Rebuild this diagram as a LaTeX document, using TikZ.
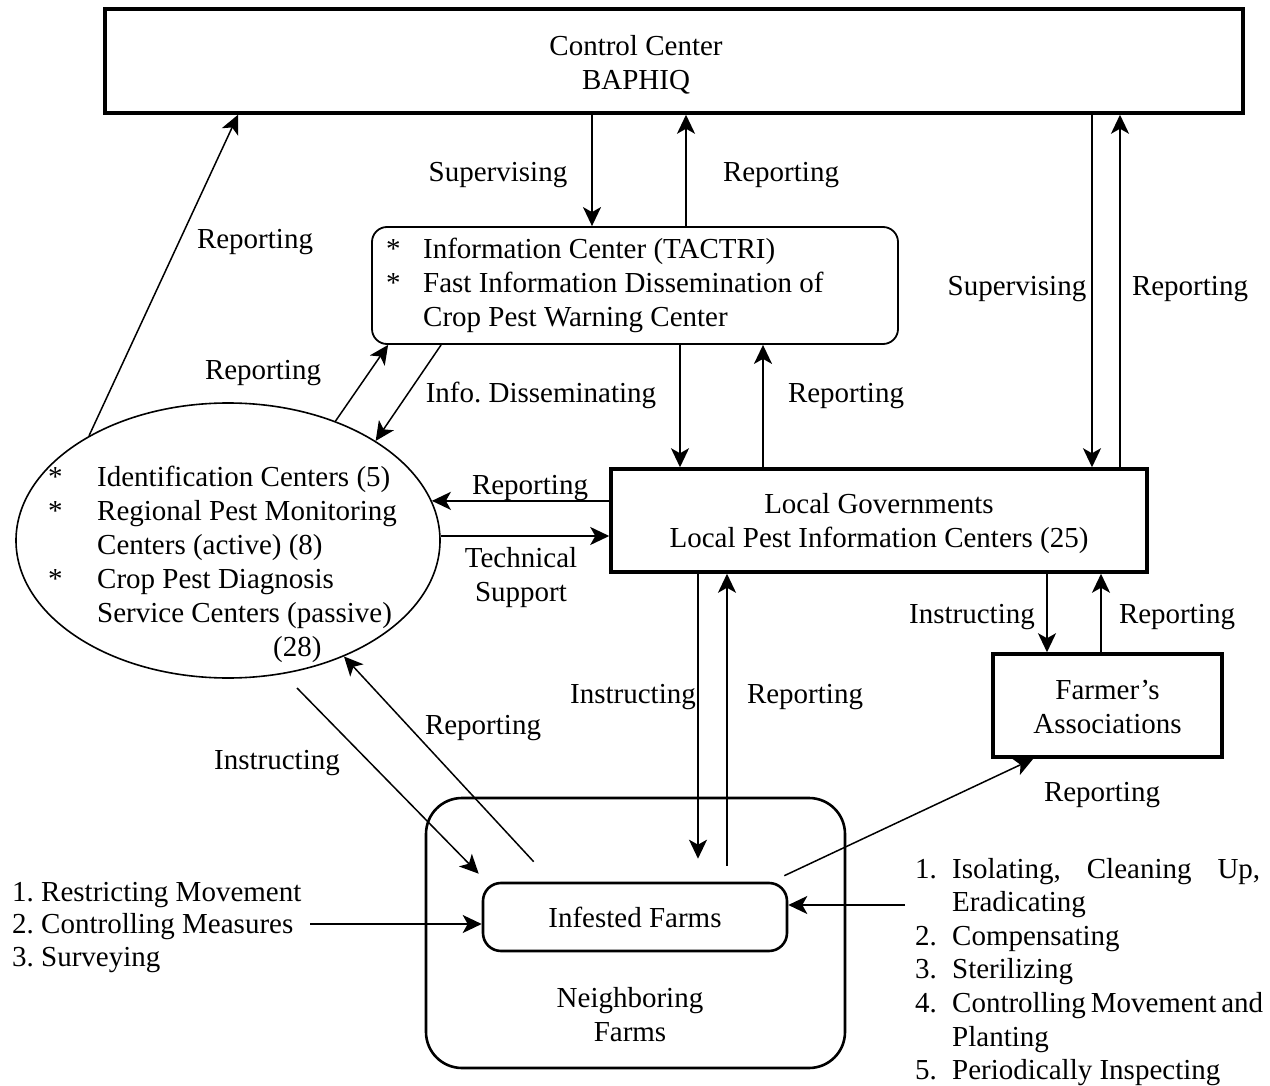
\documentclass[tikz,border=0pt]{standalone}
\usepackage{fontspec}
\setmainfont{Liberation Serif}
\usetikzlibrary{arrows.meta,shapes.geometric}
\frenchspacing

\begin{document}
\begin{tikzpicture}[x=1pt,y=-1pt,
  every node/.style={inner sep=0pt,font=\fontsize{29}{34}\selectfont},
  thickbox/.style={draw,rectangle,line width=3.5pt},
  infobox/.style={draw,rectangle,line width=1.8pt,rounded corners=15pt},
  farmbox/.style={draw,rectangle,line width=2.6pt},
  lbl/.style={anchor=base},
  txt/.style={anchor=base},
  arr/.style={-{Stealth[length=19pt,width=18pt,inset=5pt]},line width=2pt},
  thinarr/.style={arr,line width=1.5pt}]

\useasboundingbox (0,0) rectangle (1270,1086);

% boxes
\node[thickbox,minimum width=1138pt,minimum height=104pt] (cc) at (674,61) {};
\node[infobox,minimum width=526pt,minimum height=117pt] (info) at (635,285.5) {};
\node[thickbox,minimum width=536pt,minimum height=103pt] (lg) at (879,520.5) {};
\node[thickbox,minimum width=229pt,minimum height=103pt] (fa) at (1107.5,705.5) {};
\node[draw,ellipse,line width=1.6pt,minimum width=424pt,minimum height=275pt] (ell) at (228,540.5) {};
\node[farmbox,rounded corners=36pt,minimum width=419pt,minimum height=270pt] (nb) at (635.5,933) {};
\node[farmbox,rounded corners=18pt,minimum width=304pt,minimum height=68pt] (inf) at (635,917) {};

% box texts
\node[txt] (cct) at (636,56) {\begin{tabular}[t]{@{}c@{}}Control Center\\BAPHIQ\end{tabular}};
\node[txt] (lgt) at (879,513) {\begin{tabular}[t]{@{}c@{}}Local Governments\\Local Pest Information Centers (25)\end{tabular}};
\node[txt] (fat) at (1107.5,699) {\begin{tabular}[t]{@{}c@{}}Farmer’s\\Associations\end{tabular}};
\node[txt] (inft) at (635,927) {Infested Farms};
\node[txt] (nbt) at (630,1007) {\begin{tabular}[t]{@{}c@{}}Neighboring\\Farms\end{tabular}};
\node[anchor=base west] (infot) at (386,259) {\begin{tabular}[t]{@{}l@{\hspace{22.5pt}}l@{}}
  {*} & Information Center (TACTRI)\\
  {*} & Fast Information Dissemination of\\
      & Crop Pest Warning Center\end{tabular}};
\node[anchor=base west] (ellt) at (48,486) {\begin{tabular}[t]{@{}l@{\hspace{34.5pt}}l@{}}
  {*} & Identification Centers (5)\\
  {*} & Regional Pest Monitoring\\
      & Centers (active) (8)\\
  {*} & Crop Pest Diagnosis\\
      & Service Centers (passive)\\
      & \hspace{176pt}(28)\end{tabular}};
\node[anchor=base west] (lft) at (12,901) {\renewcommand\arraystretch{0.97}\begin{tabular}[t]{@{}l@{}}
  1. Restricting Movement\\
  2. Controlling Measures\\
  3. Surveying\end{tabular}};
\node[anchor=base west] (rgt) at (915,878) {\renewcommand\arraystretch{0.99}\begin{tabular}[t]{@{}l@{}l@{}}
  \makebox[37pt][l]{1.} & \makebox[308pt][s]{Isolating, Cleaning Up,}\\
    & Eradicating\\
  \makebox[37pt][l]{2.} & Compensating\\
  \makebox[37pt][l]{3.} & Sterilizing\\
  \makebox[37pt][l]{4.} & \makebox[308pt][s]{Controlling Movement and}\\
    & Planting\\
  \makebox[37pt][l]{5.} & Periodically Inspecting\end{tabular}};

% connector labels
\node[lbl] (l1) at (498,182) {Supervising};
\node[lbl] (l2) at (781,182) {Reporting};
\node[lbl] (l3) at (255,249) {Reporting};
\node[lbl] (l4) at (1017,295) {Supervising};
\node[lbl] (l5) at (1190,295) {Reporting};
\node[lbl] (l6) at (263,379) {Reporting};
\node[lbl] (l7) at (541,402) {Info. Disseminating};
\node[lbl] (l8) at (846,402) {Reporting};
\node[lbl] (l9) at (530,494) {Reporting};
\node[lbl] (l10) at (521,567) {\begin{tabular}[t]{@{}c@{}}Technical\\Support\end{tabular}};
\node[lbl] (l11) at (972,623) {Instructing};
\node[lbl] (l12) at (1177,623) {Reporting};
\node[lbl] (l13) at (633,703) {Instructing};
\node[lbl] (l14) at (805,703) {Reporting};
\node[lbl] (l15) at (483,734) {Reporting};
\node[lbl] (l16) at (277,769) {Instructing};
\node[lbl] (l17) at (1102,801) {Reporting};

% vertical connectors
\draw[arr] (592,0 |- cc.south) -- (592,0 |- info.north);
\draw[arr] (686,0 |- info.north) -- (686,0 |- cc.south);
\draw[arr] (1092,0 |- cc.south) -- (1092,0 |- lg.north);
\draw[arr] (1120,0 |- lg.north) -- (1120,0 |- cc.south);
\draw[arr] (680,0 |- info.south) -- (680,0 |- lg.north);
\draw[arr] (763,0 |- lg.north) -- (763,0 |- info.south);
\draw[arr] (1047,0 |- lg.south) -- (1047,0 |- fa.north);
\draw[arr] (1101,0 |- fa.north) -- (1101,0 |- lg.south);
\draw[arr] (698,0 |- lg.south) -- ([yshift=23pt]698,0 |- inf.north);
\draw[arr] ([yshift=16pt]727,0 |- inf.north) -- (727,0 |- lg.south);

% connectors at the ellipse
\draw[thinarr] (ell.143) -- (238,0 |- cc.south);
\draw[thinarr] (ell.48) -- ([xshift=17pt]info.south west);
\draw[thinarr] ([xshift=70pt]info.south west) -- (ell.34);
\draw[arr] (lg.west |- ell.11) -- (ell.11);
\draw[arr] ([yshift=4.5pt]ell.east) -- ([yshift=4.5pt]ell.east -| lg.west);
\draw[thinarr] ([shift={(52pt,20pt)}]inf.north west) -- (ell.-45);
\coordinate (ins) at (297,688);
\draw[thinarr] (ins) -- ([shift={(-3pt,8pt)}]inf.north west);

% measures acting on the infested farms
\coordinate (lin) at (310,924);
\draw[arr] (lin) -- (lin -| inf.west);
\coordinate (rin) at (905,905);
\draw[arr] (rin) -- (rin -| inf.east);
\draw[thinarr] ([shift={(-4pt,6pt)}]inf.north east) -- ([xshift=42pt]fa.south west);

\end{tikzpicture}
\end{document}
